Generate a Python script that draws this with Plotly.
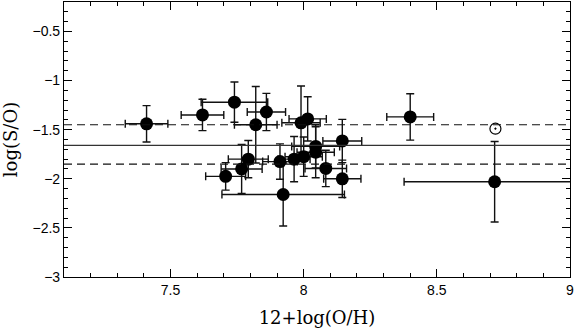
import plotly.graph_objects as go

# galaxies: 12+log(O/H) vs log(S/O)
oh = [7.41, 7.62, 7.74, 7.86, 7.82, 7.99, 8.015, 8.145, 8.045, 8.045, 8.0,
      7.964, 7.911, 7.792, 7.767, 7.707, 8.083, 8.145, 7.923, 8.40, 8.717]
so = [-1.44, -1.35, -1.22, -1.32, -1.45, -1.43, -1.39, -1.615, -1.67, -1.73, -1.775,
      -1.80, -1.825, -1.80, -1.90, -1.975, -1.895, -2.0, -2.16, -1.37, -2.03]
oh_err = [0.08, 0.08, 0.125, 0.072, 0.08, 0.072, 0.07, 0.073, 0.09, 0.07, 0.07,
          0.06, 0.065, 0.075, 0.077, 0.075, 0.078, 0.07, 0.23, 0.088, 0.34]
so_err = [0.185, 0.16, 0.205, 0.19, 0.39, 0.375, 0.225, 0.22, 0.22, 0.26, 0.2,
          0.23, 0.18, 0.19, 0.25, 0.14, 0.185, 0.19, 0.32, 0.236, 0.41]

# solar value
sun_oh = [8.72]
sun_so = [-1.49]

# mean and +/- 1 sigma
mean_so = -1.66
sig_lo = -1.85
sig_hi = -1.45

fig = go.Figure()

fig.add_hline(y=mean_so, line=dict(color="#333", width=1.2))
fig.add_hline(y=sig_hi, line=dict(color="#111", width=1.2, dash="8px,5px"))
fig.add_hline(y=sig_lo, line=dict(color="#111", width=1.2, dash="8px,5px"))

fig.add_trace(go.Scatter(
    x=oh, y=so, mode="markers",
    marker=dict(color="black", size=13),
    error_x=dict(type="data", array=oh_err, color="#111", thickness=1.4, width=4),
    error_y=dict(type="data", array=so_err, color="#111", thickness=1.4, width=4),
    showlegend=False))

fig.add_trace(go.Scatter(
    x=sun_oh, y=sun_so, mode="markers",
    marker=dict(symbol="circle-open-dot", color="black", size=11, line=dict(width=1.2)),
    showlegend=False))

axis_common = dict(
    showgrid=False, zeroline=False, showline=True, linecolor="black", linewidth=1.2,
    mirror="allticks", ticks="inside", ticklen=8, tickcolor="black", automargin=False,
    tickfont=dict(family="Liberation Sans, Arial", size=14, color="black"),
    minor=dict(ticks="inside", ticklen=4, tickcolor="black", dtick=0.1),
)

fig.update_xaxes(range=[7.1, 9], dtick=0.5, tick0=7,
                 title=dict(text="12+log(O/H)",
                            font=dict(family="DejaVu Serif", size=18, color="black")),
                 **axis_common)
fig.update_yaxes(range=[-3, -0.2], dtick=0.5, tick0=-3,
                 title=dict(text="log(S/O)",
                            font=dict(family="DejaVu Serif", size=18, color="black")),
                 **axis_common)

fig.update_layout(
    width=575, height=328,
    margin=dict(l=64, r=5, t=2, b=51),
    plot_bgcolor="white", paper_bgcolor="white",
)

# drop the default page margin so the figure sits at the window's corner
fig.write_html("out.html", config={"displayModeBar": False},
               post_script="document.body.style.margin='0';")
